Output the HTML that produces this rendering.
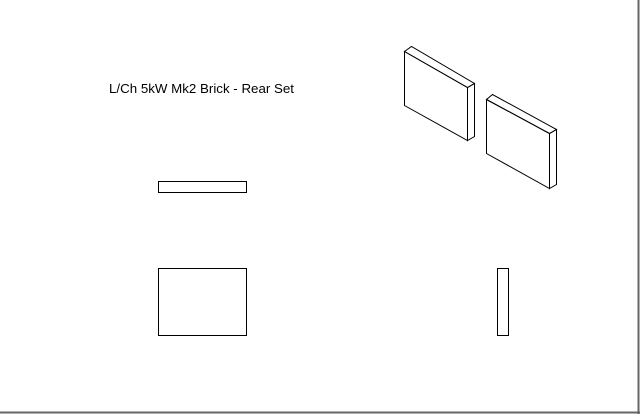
<!DOCTYPE html>
<html><head><meta charset="utf-8"><style>
html,body{margin:0;padding:0;background:#fff;width:640px;height:414px;overflow:hidden}
</style></head><body>
<svg width="640" height="414" xmlns="http://www.w3.org/2000/svg" style="display:block">
<rect x="0" y="0" width="640" height="414" fill="#fff"/>
<line x1="638.5" y1="0" x2="638.5" y2="414" stroke="#666" stroke-width="2"/>
<line x1="0" y1="412.5" x2="640" y2="412.5" stroke="#666" stroke-width="2"/>
<text x="109" y="93" font-family="Liberation Sans, Arial, sans-serif" font-size="13" fill="#000" textLength="185" lengthAdjust="spacingAndGlyphs">L/Ch 5kW Mk2 Brick - Rear Set</text>
<g fill="none" stroke="#000" stroke-width="1">
<rect x="158.5" y="181.5" width="88" height="11"/>
<rect x="158.5" y="268.5" width="88" height="67"/>
<rect x="497.5" y="268.5" width="11" height="67"/>
<polygon points="404.5,51.5 467.5,87.5 467.5,140.5 404.5,105.5"/>
<polygon points="404.5,51.5 411.5,46.5 474.5,83.5 467.5,87.5"/>
<polygon points="467.5,87.5 474.5,83.5 474.5,136.5 467.5,140.5"/>
<polygon points="486.5,99.5 549.5,133.5 549.5,188.5 486.5,153.5"/>
<polygon points="486.5,99.5 492.5,94.5 556.5,129.5 549.5,133.5"/>
<polygon points="549.5,133.5 556.5,129.5 556.5,184.5 549.5,188.5"/>
</g>
</svg>
</body></html>
